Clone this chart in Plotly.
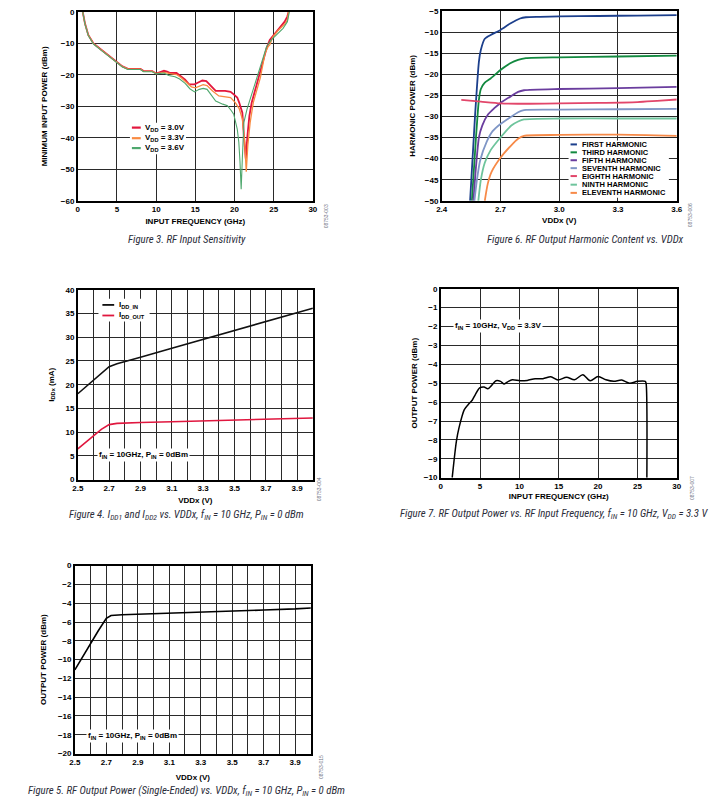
import plotly.graph_objects as go

W, H = 728, 809

# ---------------- Figure 3: RF input sensitivity ----------------
f3_freq_30 = [0.63, 0.92, 1.34, 2.0, 3.0, 3.85, 5.0, 5.7, 6.4, 8.0, 8.4, 9.5, 10.0, 10.5, 11.0, 11.4,
              11.8, 12.6, 13.0, 13.7, 14.2, 14.9, 15.3, 15.9, 16.4, 17.0, 17.6, 18.8, 19.5, 19.9, 20.35,
              20.6, 21.0, 21.2, 21.44, 21.65, 21.9, 22.2, 23.1, 24.1, 24.5, 25.2, 25.8, 26.4, 26.75, 26.9]
f3_pwr_30 = [0, -3.7, -7.3, -10, -12, -13.6, -16, -17.3, -18.1, -18.1, -18.8, -18.8, -19.6, -19.2, -18.7, -19.0,
             -19.4, -19.4, -20.2, -21.5, -23.0, -23.0, -22.5, -21.8, -22.0, -23.6, -25.1, -25.1, -25.4, -26.2, -27.2,
             -28.8, -32.0, -39.3, -46.6, -39.3, -33.0, -28.8, -20.4, -11.5, -8.9, -6.8, -4.7, -3.1, -1.4, 0]
f3_freq_33 = [0.63, 0.92, 1.34, 2.0, 3.0, 3.85, 5.0, 5.7, 6.4, 8.0, 8.4, 9.5, 10.0, 10.5, 11.0, 11.8,
              12.6, 13.2, 13.9, 14.5, 15.0, 15.5, 16.0, 16.5, 17.2, 18.0, 18.9, 19.5, 20.1, 20.6, 21.0,
              21.3, 21.5, 21.7, 22.0, 22.4, 23.3, 23.9, 24.3, 24.5, 24.9, 25.6, 26.4, 26.75, 26.9]
f3_pwr_33 = [0, -3.8, -7.4, -10.1, -12.1, -13.7, -16.1, -17.4, -18.2, -18.2, -18.9, -18.9, -19.6, -19.4, -19.2, -19.6,
             -19.9, -20.9, -22.5, -23.8, -24.1, -23.6, -23.1, -23.4, -25.1, -26.7, -27.0, -27.2, -28.8, -30.7, -34.0,
             -41.4, -50.8, -42.4, -35.1, -28.8, -20.9, -13.1, -11.0, -10.5, -7.9, -5.8, -3.9, -2.6, 0]
f3_freq_36 = [0.63, 0.92, 1.34, 2.0, 3.0, 3.85, 5.0, 5.7, 6.4, 8.0, 8.4, 9.5, 10.0, 10.5, 11.0, 11.6,
              12.4, 13.0, 13.7, 14.3, 14.9, 15.5, 16.0, 16.5, 17.0, 17.6, 18.5, 19.1, 19.6, 19.9, 20.35,
              20.55, 20.7, 20.85, 21.0, 21.2, 21.6, 22.2, 23.1, 24.1, 24.7, 25.4, 26.2, 26.75, 27.0]
f3_pwr_36 = [0, -3.9, -7.5, -10.2, -12.2, -13.8, -16.2, -17.5, -18.3, -18.3, -19.0, -19.0, -19.7, -19.6, -19.4, -20.2,
             -20.6, -21.3, -22.7, -24.4, -25.4, -24.6, -24.3, -24.6, -26.2, -28.3, -29.3, -29.8, -31.4, -32.5, -37.2,
             -41.4, -47.6, -56.3, -46.6, -35.1, -30.9, -26.2, -19.4, -11.0, -8.9, -7.3, -5.2, -3.1, 0]
f3_labels = ["V<sub>DD</sub> = 3.0V", "V<sub>DD</sub> = 3.3V", "V<sub>DD</sub> = 3.6V"]
f3_colors = ["#e3173d", "#f98b42", "#4fa86e"]

# ---------------- Figure 6: harmonic content ----------------
h_first_x = [2.545, 2.57, 2.59, 2.60, 2.62, 2.65, 2.70, 2.75, 2.80, 2.83, 2.9, 3.0, 3.2, 3.4, 3.6]
h_first_y = [-50, -30, -17, -14.2, -11.6, -10.7, -9.5, -8.0, -6.8, -6.5, -6.4, -6.3, -6.2, -6.1, -6.0]
h_third_x = [2.554, 2.575, 2.59, 2.60, 2.62, 2.65, 2.70, 2.75, 2.79, 2.83, 3.0, 3.3, 3.6]
h_third_y = [-50, -35, -26, -23.5, -22, -21, -19, -17.4, -16.6, -16.2, -16.0, -15.8, -15.6]
h_fifth_x = [2.562, 2.575, 2.59, 2.607, 2.637, 2.67, 2.70, 2.754, 2.79, 2.82, 3.0, 3.3, 3.6]
h_fifth_y = [-50, -42, -35, -32.2, -29.5, -28, -26.8, -25.2, -24.2, -23.8, -23.5, -23.3, -23.0]
h_seventh_x = [2.567, 2.58, 2.596, 2.63, 2.66, 2.70, 2.754, 2.79, 2.82, 3.0, 3.3, 3.6]
h_seventh_y = [-50, -45, -40.5, -36, -33.5, -31.8, -30.1, -29, -28.5, -28.4, -28.3, -28.2]
h_eighth_x = [2.5, 2.6, 2.7, 2.85, 3.0, 3.2, 3.4, 3.5, 3.6]
h_eighth_y = [-26.1, -26.5, -26.9, -27.0, -26.9, -26.8, -26.6, -26.3, -26.0]
h_ninth_x = [2.587, 2.60, 2.62, 2.65, 2.70, 2.754, 2.79, 2.82, 3.0, 3.3, 3.6]
h_ninth_y = [-50, -45, -41, -38, -35, -32.2, -31.2, -30.7, -30.5, -30.5, -30.5]
h_eleventh_x = [2.62, 2.635, 2.654, 2.70, 2.754, 2.79, 2.82, 3.0, 3.3, 3.6]
h_eleventh_y = [-50, -46, -43.2, -39.8, -36.9, -35.3, -34.6, -34.4, -34.3, -34.6]
h_names = ["FIRST HARMONIC", "THIRD HARMONIC", "FIFTH HARMONIC", "SEVENTH HARMONIC",
           "EIGHTH HARMONIC", "NINTH HARMONIC", "ELEVENTH HARMONIC"]
h_colors = ["#1c3f8c", "#12893f", "#6a3d9e", "#7f96c6", "#e2466a", "#6ec49c", "#f78a48"]

# ---------------- Figure 4: supply currents ----------------
i_vdd = [2.5, 2.55, 2.6, 2.65, 2.7, 2.75, 2.8, 2.9, 3.1, 3.3, 3.5, 3.7, 3.9, 4.0]
i_dd_in = [18.1, 19.5, 21.0, 22.5, 23.8, 24.4, 24.9, 25.8, 27.7, 29.6, 31.5, 33.4, 35.2, 36.1]
i_dd_out = [6.5, 7.8, 9.2, 10.6, 11.6, 11.85, 11.95, 12.05, 12.2, 12.4, 12.55, 12.7, 12.85, 13.0]
i_labels = ["I<sub>DD_IN</sub>", "I<sub>DD_OUT</sub>"]
i_colors = ["#111111", "#e0173f"]

# ---------------- Figure 7: output power vs frequency ----------------
p7_freq = [1.46, 2.0, 2.33, 3.0, 3.5, 4.0, 4.4, 4.95, 5.5, 6.0, 6.5, 7.03, 7.6, 8.07, 8.6, 9.1, 10.1, 11.0,
           12.0, 13.0, 14.0, 14.9, 16.0, 17.0, 18.06, 19.0, 20.0, 21.0, 22.0, 23.0, 24.0, 25.0, 26.0, 26.1, 26.2]
p7_pwr = [-10, -8.05, -7.35, -6.4, -6.13, -5.9, -5.6, -5.25, -5.2, -5.29, -5.1, -4.87, -4.9, -5.04, -4.9, -4.82,
          -4.87, -4.85, -4.76, -4.76, -4.66, -4.83, -4.68, -4.82, -4.55, -4.87, -4.64, -4.82, -4.9, -4.83,
          -5.0, -4.9, -4.9, -5.0, -10]

# ---------------- Figure 5: output power vs VDDx ----------------
p5_vdd = [2.5, 2.55, 2.6, 2.65, 2.7, 2.73, 2.8, 2.9, 3.1, 3.3, 3.5, 3.7, 3.9, 4.0]
p5_pwr = [-11.1, -9.7, -8.2, -6.9, -5.6, -5.3, -5.22, -5.17, -5.08, -4.95, -4.85, -4.72, -4.6, -4.5]

vdd_ticks = [2.5, 2.7, 2.9, 3.1, 3.3, 3.5, 3.7, 3.9]

# ---------------- layout helpers ----------------
def px(x):
    return x / W

def py(y):
    return 1 - y / H

panels = {
    "1": dict(l=73, r=312, t=8, b=199),
    "2": dict(l=443, r=682, t=7, b=199),
    "3": dict(l=73, r=312, t=289, b=481),
    "4": dict(l=442, r=682, t=288, b=479),
    "5": dict(l=70, r=310, t=568, b=758),
}

BOLD = dict(family="Liberation Sans, Arial, sans-serif", size=8, color="black", weight="bold")
GRID = "#2a2a2a"

def axis(p, horizontal, **kw):
    d = dict(showline=True, linecolor="black", linewidth=1.5, mirror=True,
             showgrid=True, gridcolor=GRID, gridwidth=1, zeroline=False, ticks="",
             tickfont=BOLD, title_font=BOLD, fixedrange=True)
    if horizontal:
        d["domain"] = [px(p["l"]), px(p["r"])]
    else:
        d["domain"] = [py(p["b"]), py(p["t"])]
    d.update(kw)
    return d

fig = go.Figure()

# Figure 3 traces
for xs, ys, c, w in [(f3_freq_30, f3_pwr_30, f3_colors[0], 1.8),
                     (f3_freq_33, f3_pwr_33, f3_colors[1], 1.3),
                     (f3_freq_36, f3_pwr_36, f3_colors[2], 1.1)]:
    fig.add_trace(go.Scatter(x=xs, y=ys, mode="lines", line=dict(color=c, width=w),
                             xaxis="x", yaxis="y", showlegend=False, hoverinfo="skip"))

# Figure 6 traces
for xs, ys, c in zip([h_first_x, h_third_x, h_fifth_x, h_seventh_x, h_eighth_x, h_ninth_x, h_eleventh_x],
                     [h_first_y, h_third_y, h_fifth_y, h_seventh_y, h_eighth_y, h_ninth_y, h_eleventh_y],
                     h_colors):
    fig.add_trace(go.Scatter(x=xs, y=ys, mode="lines", line=dict(color=c, width=1.8, shape="spline", smoothing=0.6),
                             xaxis="x2", yaxis="y2", showlegend=False, hoverinfo="skip"))

# Figure 4 traces
for ys, c in zip([i_dd_in, i_dd_out], i_colors):
    fig.add_trace(go.Scatter(x=i_vdd, y=ys, mode="lines", line=dict(color=c, width=1.6),
                             xaxis="x3", yaxis="y3", showlegend=False, hoverinfo="skip"))

# Figure 7 trace
fig.add_trace(go.Scatter(x=p7_freq, y=p7_pwr, mode="lines", line=dict(color="black", width=1.5, shape="spline", smoothing=0.8),
                         xaxis="x4", yaxis="y4", showlegend=False, hoverinfo="skip"))

# Figure 5 trace
fig.add_trace(go.Scatter(x=p5_vdd, y=p5_pwr, mode="lines", line=dict(color="black", width=1.6),
                         xaxis="x5", yaxis="y5", showlegend=False, hoverinfo="skip"))

P = panels
layout = dict(
    width=W, height=H, margin=dict(l=0, r=0, t=0, b=0),
    paper_bgcolor="white", plot_bgcolor="white", showlegend=False,
    xaxis=axis(P["1"], True, anchor="y", range=[0, 30], dtick=5, tick0=0,
               title=dict(text="INPUT FREQUENCY (GHz)", standoff=5)),
    yaxis=axis(P["1"], False, anchor="x", range=[-60, 0], dtick=10, tick0=0,
               title=dict(text="MINIMUM INPUT POWER (dBm)", standoff=12)),
    xaxis2=axis(P["2"], True, anchor="y2", range=[2.4, 3.6], dtick=0.3, tick0=2.4, tickformat=".1f",
                title=dict(text="VDDx (V)", standoff=4)),
    yaxis2=axis(P["2"], False, anchor="x2", range=[-50, -5], dtick=5, tick0=-50,
                title=dict(text="HARMONIC POWER (dBm)", standoff=8)),
    xaxis3=axis(P["3"], True, anchor="y3", range=[2.5, 4.0], tickmode="array", tickvals=vdd_ticks,
                ticktext=[f"{v:.1f}" for v in vdd_ticks],
                minor=dict(tickmode="linear", tick0=2.5, dtick=0.1, showgrid=True, gridcolor=GRID, gridwidth=1, ticks=""),
                title=dict(text="VDDx (V)", standoff=5)),
    yaxis3=axis(P["3"], False, anchor="x3", range=[0, 40], dtick=5, tick0=0,
                title=dict(text="I<sub>DDx</sub> (mA)", standoff=10)),
    xaxis4=axis(P["4"], True, anchor="y4", range=[0, 30], dtick=5, tick0=0,
                title=dict(text="INPUT FREQUENCY (GHz)", standoff=3)),
    yaxis4=axis(P["4"], False, anchor="x4", range=[-10, 0], dtick=1, tick0=0,
                title=dict(text="OUTPUT POWER (dBm)", standoff=5)),
    xaxis5=axis(P["5"], True, anchor="y5", range=[2.5, 4.0], tickmode="array", tickvals=vdd_ticks,
                ticktext=[f"{v:.1f}" for v in vdd_ticks],
                minor=dict(tickmode="linear", tick0=2.5, dtick=0.1, showgrid=True, gridcolor=GRID, gridwidth=1, ticks=""),
                title=dict(text="VDDx (V)", standoff=8)),
    yaxis5=axis(P["5"], False, anchor="x5", range=[-20, 0], dtick=2, tick0=0,
                title=dict(text="OUTPUT POWER (dBm)", standoff=10)),
)

shapes = []
annotations = []

def legend_block(box, rows, sw_x0, sw_x1, text_x, colors, labels, sw_width, fsize):
    l, r, t, b = box
    shapes.append(dict(type="rect", xref="paper", yref="paper", x0=px(l), x1=px(r), y0=py(b), y1=py(t),
                       fillcolor="white", line=dict(width=0), layer="above"))
    for yrow, c, lab in zip(rows, colors, labels):
        shapes.append(dict(type="line", xref="paper", yref="paper", x0=px(sw_x0), x1=px(sw_x1),
                           y0=py(yrow), y1=py(yrow), line=dict(color=c, width=sw_width), layer="above"))
        annotations.append(dict(text=lab, xref="paper", yref="paper", x=px(text_x), y=py(yrow),
                                xanchor="left", yanchor="middle", showarrow=False,
                                font=dict(BOLD, size=fsize)))

# Figure 3 legend
legend_block((126, 183, 120, 152), [125, 135.7, 145.7], 128, 137, 139, f3_colors, f3_labels, 2.2, 8)
# Figure 6 legend
legend_block((572, 674, 138, 196), [142, 150, 158, 166, 174, 182.7, 191], 574, 580.5, 584, h_colors, h_names, 2, 7.5)
# Figure 4 legend
legend_block((94, 146, 298, 321), [304.3, 315], 98, 110, 113, i_colors, i_labels, 1.8, 8)

# condition notes
for text, xc, yc in [("f<sub>IN</sub> = 10GHz, P<sub>IN</sub> = 0dBm", 140, 456),
                     ("f<sub>IN</sub> = 10GHz, V<sub>DD</sub> = 3.3V", 500, 325.7),
                     ("f<sub>IN</sub> = 10GHz, P<sub>IN</sub> = 0dBm", 128.5, 740.7)]:
    annotations.append(dict(text=text, xref="paper", yref="paper", x=px(xc), y=py(yc),
                            xanchor="center", yanchor="middle", showarrow=False, bgcolor="white",
                            borderpad=1, font=BOLD))

# captions
CAP = dict(family="Liberation Sans Narrow, Roboto Condensed, Roboto, sans-serif", size=10.8, color="#2b2d3a", style="italic")
for text, xc, yc in [("Figure 3. RF Input Sensitivity", 184, 237.7),
                     ("Figure 6. RF Output Harmonic Content vs. VDDx", 589, 237.7),
                     ("Figure 4. I<sub>DD1</sub> and I<sub>DD2</sub> vs. VDDx, f<sub>IN</sub> = 10 GHz, P<sub>IN</sub> = 0 dBm", 184, 517),
                     ("Figure 7. RF Output Power vs. RF Input Frequency, f<sub>IN</sub> = 10 GHz, V<sub>DD</sub> = 3.3 V", 557, 515.7),
                     ("Figure 5. RF Output Power (Single-Ended) vs. VDDx, f<sub>IN</sub> = 10 GHz, P<sub>IN</sub> = 0 dBm", 184, 795.7)]:
    annotations.append(dict(text=text, xref="paper", yref="paper", x=px(xc), y=py(yc),
                            xanchor="center", yanchor="middle", showarrow=False, font=CAP))

# figure codes
for text, xc, yc in [("08753-003", 325, 215), ("08753-006", 695, 214), ("08753-004", 318, 491),
                     ("08753-007", 697, 490), ("08753-015", 321, 772)]:
    annotations.append(dict(text=text, xref="paper", yref="paper", x=px(xc), y=py(yc), textangle=-90,
                            xanchor="center", yanchor="middle", showarrow=False,
                            font=dict(family="Liberation Sans, Arial, sans-serif", size=5, color="#6b6f80")))

layout["shapes"] = shapes
layout["annotations"] = annotations
fig.update_layout(**layout)

fig.write_html("out.html", config={"displayModeBar": False},
               post_script="document.body.style.margin='0px';document.body.style.overflow='hidden';")
